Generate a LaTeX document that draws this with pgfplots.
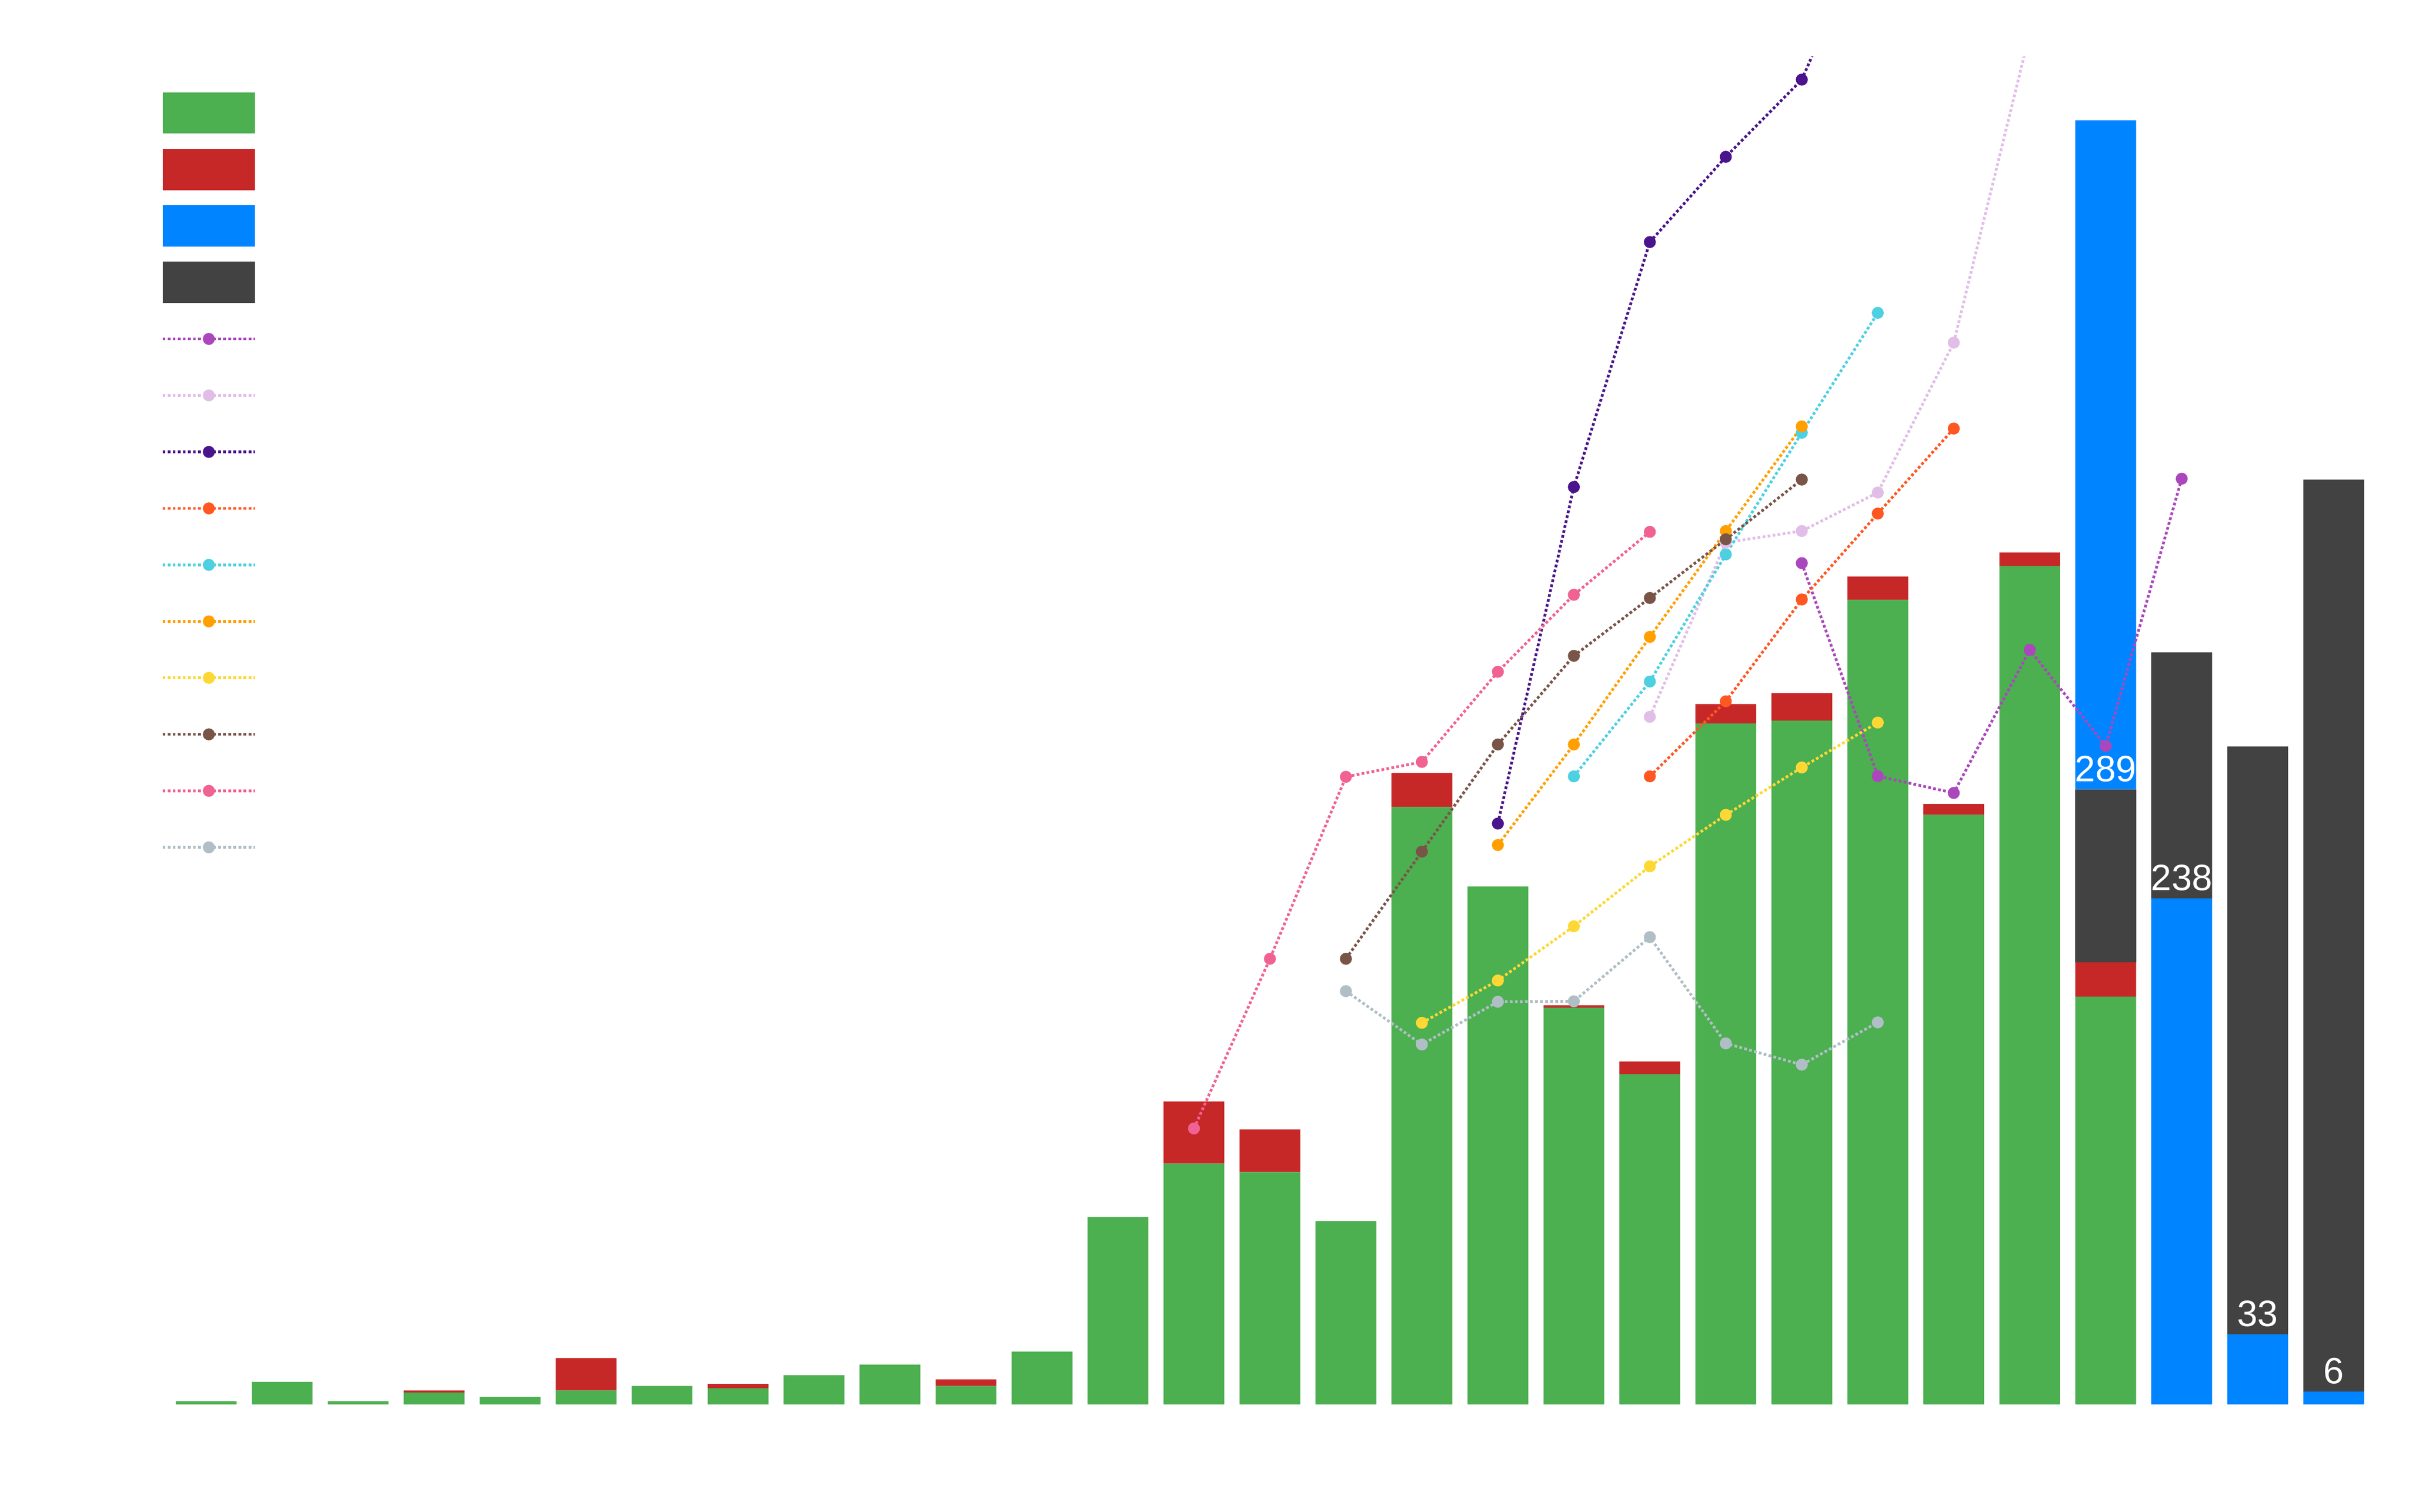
\documentclass[border=0pt]{standalone}
\usepackage{fontspec}
\setmainfont{Liberation Sans}
\usepackage{pgfplots}
\usepackage{pgfplotstable}
\pgfplotsset{compat=1.18}

\definecolor{cGreen}{HTML}{4CAF50}
\definecolor{cRed}{HTML}{C62828}
\definecolor{cBlue}{HTML}{0084FF}
\definecolor{cGray}{HTML}{424242}
\definecolor{cPurple}{HTML}{AB47BC}
\definecolor{cLav}{HTML}{E1BEE7}
\definecolor{cDeep}{HTML}{4A148C}
\definecolor{cOrRed}{HTML}{FF5722}
\definecolor{cCyan}{HTML}{4DD0E1}
\definecolor{cOrange}{HTML}{FFA000}
\definecolor{cYellow}{HTML}{FDD835}
\definecolor{cBrown}{HTML}{795548}
\definecolor{cPink}{HTML}{F06292}
\definecolor{cBGray}{HTML}{B0BEC5}

\pgfplotstableread{
x green red grayA blue grayB
0 1.5 0 0 0 0
1 10.6 0 0 0 0
2 1.5 0 0 0 0
3 5.6 1.0 0 0 0
4 3.6 0 0 0 0
5 6.6 15.2 0 0 0
6 8.7 0 0 0 0
7 7.6 2.1 0 0 0
8 13.7 0 0 0 0
9 18.7 0 0 0 0
10 8.7 3.1 0 0 0
11 24.8 0 0 0 0
12 88.2 0 0 0 0
13 113.3 29.2 0 0 0
14 109.3 20.1 0 0 0
15 86.2 0 0 0 0
16 281.0 16.0 0 0 0
17 243.6 0 0 0 0
18 186.6 1.1 0 0 0
19 155.4 5.9 0 0 0
20 320.3 9.1 0 0 0
21 321.6 13.0 0 0 0
22 378.4 11.0 0 0 0
23 277.3 5.1 0 0 0
24 394.4 6.3 0 0 0
25 191.8 16.2 81.3 314.7 0
26 0 0 0 238 115.7
27 0 0 0 33 276.5
28 0 0 0 6 429
}\bars

\pgfplotsset{
  myax/.style={at={(36.61pt,23.4pt)}, anchor=south west, scale only axis,
    width=479.66pt, height=293.5pt, xmin=-0.5, xmax=28.5, ymin=0, ymax=634,
    hide axis},
  ln/.style={line width=0.6pt, dash pattern=on 0.6pt off 0.5pt, mark=*,
    mark size=1pt, mark options={solid}},
}

\begin{document}
\begin{tikzpicture}
\path[use as bounding box] (0,0) rectangle (524.4pt,329.2pt);

\begin{axis}[myax, ybar stacked, bar width=0.8]
\addplot[fill=cGreen, draw=none] table[x=x, y=green] {\bars};
\addplot[fill=cRed, draw=none] table[x=x, y=red] {\bars};
\addplot[fill=cGray, draw=none] table[x=x, y=grayA] {\bars};
\addplot[fill=cBlue, draw=none] table[x=x, y=blue] {\bars};
\addplot[fill=cGray, draw=none] table[x=x, y=grayB] {\bars};
\end{axis}

\begin{axis}[myax,
  legend image code/.code={\path[draw=none, fill=none] (0pt,-6.15pt) rectangle (20.1pt,6.15pt);
    \draw[mark repeat=2, mark phase=2, #1] plot coordinates {(0pt,0pt) (10.05pt,0pt) (20.1pt,0pt)};},
  legend style={draw=none, fill=none, inner sep=0pt, row sep=0pt, column sep=0pt,
    nodes={inner sep=0pt, text depth=0pt}, at={(0,1)}, anchor=north west,
    xshift=-1.7pt, yshift=-5.95pt},
  legend cell align=left]
\addlegendimage{legend image code/.code={\path[draw=none, fill=none] (0pt,-6.15pt) rectangle (20.1pt,6.15pt);\fill[cGreen, draw=none] (0pt,-4.5pt) rectangle (20.1pt,4.5pt);}}
\addlegendentry{\mbox{}}
\addlegendimage{legend image code/.code={\path[draw=none, fill=none] (0pt,-6.15pt) rectangle (20.1pt,6.15pt);\fill[cRed, draw=none] (0pt,-4.5pt) rectangle (20.1pt,4.5pt);}}
\addlegendentry{\mbox{}}
\addlegendimage{legend image code/.code={\path[draw=none, fill=none] (0pt,-6.15pt) rectangle (20.1pt,6.15pt);\fill[cBlue, draw=none] (0pt,-4.5pt) rectangle (20.1pt,4.5pt);}}
\addlegendentry{\mbox{}}
\addlegendimage{legend image code/.code={\path[draw=none, fill=none] (0pt,-6.15pt) rectangle (20.1pt,6.15pt);\fill[cGray, draw=none] (0pt,-4.5pt) rectangle (20.1pt,4.5pt);}}
\addlegendentry{\mbox{}}

\addplot[ln, color=cPurple] coordinates {(21,395.7) (22,295.5) (23,287.6) (24,354.9) (25,309.7) (26,435.4)};
\addlegendentry{\mbox{}}
\addplot[ln, color=cLav] coordinates {(19,323.4) (20,405.4) (21,410.8) (22,428.9) (23,499.4) (24,645)};
\addlegendentry{\mbox{}}
\addplot[ln, color=cDeep] coordinates {(17,273.2) (18,431.5) (19,546.7) (20,586.8) (21,623.1) (22,705)};
\addlegendentry{\mbox{}}
\addplot[ln, color=cOrRed] coordinates {(19,295.4) (20,330.7) (21,378.6) (22,419.0) (23,459.0)};
\addlegendentry{\mbox{}}
\addplot[ln, color=cCyan] coordinates {(18,295.4) (19,340.0) (20,399.8) (21,457.0) (22,513.4)};
\addlegendentry{\mbox{}}
\addplot[ln, color=cOrange] coordinates {(17,263.1) (18,310.4) (19,361.0) (20,410.8) (21,460.0)};
\addlegendentry{\mbox{}}
\addplot[ln, color=cYellow] coordinates {(16,179.5) (17,199.4) (18,224.9) (19,253.1) (20,277.3) (21,299.6) (22,320.7)};
\addlegendentry{\mbox{}}
\addplot[ln, color=cBrown] coordinates {(15,209.6) (16,260.0) (17,310.4) (18,352.1) (19,379.3) (20,406.9) (21,435.0)};
\addlegendentry{\mbox{}}
\addplot[ln, color=cPink] coordinates {(13,129.8) (14,209.6) (15,295.2) (16,302.2) (17,344.6) (18,380.8) (19,410.4)};
\addlegendentry{\mbox{}}
\addplot[ln, color=cBGray] coordinates {(15,194.4) (16,169.3) (17,189.4) (18,189.6) (19,219.8) (20,169.8) (21,159.8) (22,179.7)};
\addlegendentry{\mbox{}}

\node[anchor=base, yshift=1.75pt, inner sep=0pt, text=white, font=\fontsize{8}{9.6}\selectfont] at (axis cs:25,289.3) {289};
\node[anchor=base, yshift=1.75pt, inner sep=0pt, text=white, font=\fontsize{8}{9.6}\selectfont] at (axis cs:26,238) {238};
\node[anchor=base, yshift=1.75pt, inner sep=0pt, text=white, font=\fontsize{8}{9.6}\selectfont] at (axis cs:27,33) {33};
\node[anchor=base, yshift=1.75pt, inner sep=0pt, text=white, font=\fontsize{8}{9.6}\selectfont] at (axis cs:28,6) {6};
\end{axis}
\end{tikzpicture}
\end{document}
